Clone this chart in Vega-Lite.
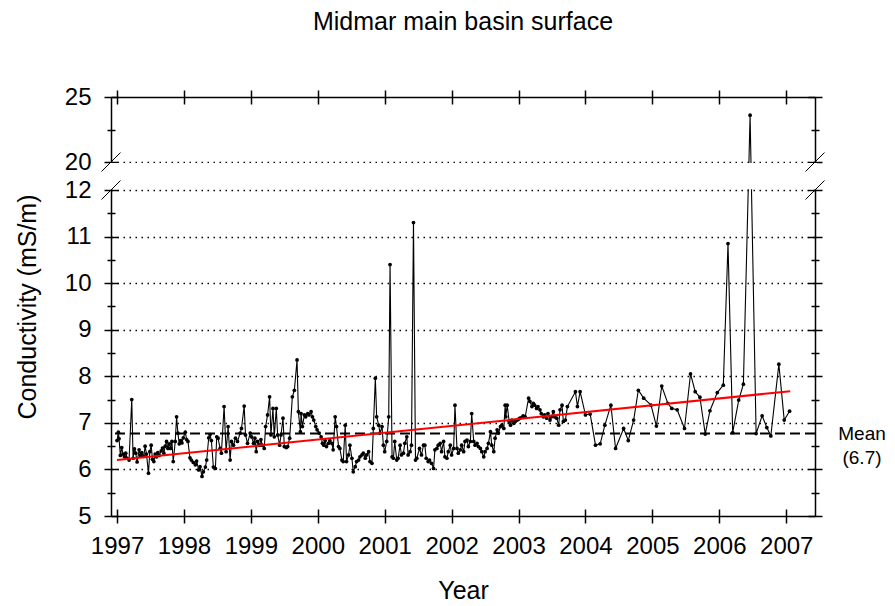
{
  "$schema": "https://vega.github.io/schema/vega-lite/v6.json",
  "width": 704,
  "height": 419,
  "autosize": {"type": "none"},
  "padding": {"left": 111, "top": 97, "right": 80, "bottom": 90},
  "background": "#ffffff",
  "title": {"text": "Midmar main basin surface", "font": "Liberation Sans", "fontSize": 25, "fontWeight": "normal", "color": "black", "offset": 50},
  "config": {
    "view": {"stroke": null},
    "axis": {"domainColor": "black", "tickColor": "black", "labelColor": "black", "titleColor": "black", "labelFont": "Liberation Sans", "titleFont": "Liberation Sans", "labelFontSize": 24, "titleFontSize": 25, "titleFontWeight": "normal", "domainWidth": 1.5, "tickWidth": 1.5, "grid": false, "labelFlush": false, "labelOverlap": false}
  },
  "datasets": {
    "series": [
      {"t":1997.00,"v":6.62},{"t":1997.02,"v":6.80},{"t":1997.03,"v":6.66},{"t":1997.05,"v":6.30},{"t":1997.07,"v":6.47},{"t":1997.09,"v":6.33},{"t":1997.11,"v":6.27},{"t":1997.13,"v":6.35},{"t":1997.15,"v":6.24},{"t":1997.18,"v":6.20},{"t":1997.22,"v":7.50},{"t":1997.24,"v":6.24},{"t":1997.26,"v":6.44},{"t":1997.28,"v":6.35},{"t":1997.30,"v":6.16},{"t":1997.33,"v":6.42},{"t":1997.35,"v":6.30},{"t":1997.37,"v":6.36},{"t":1997.40,"v":6.28},{"t":1997.42,"v":6.50},{"t":1997.44,"v":6.33},{"t":1997.47,"v":5.92},{"t":1997.49,"v":6.38},{"t":1997.51,"v":6.52},{"t":1997.53,"v":6.22},{"t":1997.55,"v":6.17},{"t":1997.57,"v":6.33},{"t":1997.59,"v":6.27},{"t":1997.61,"v":6.36},{"t":1997.63,"v":6.30},{"t":1997.66,"v":6.40},{"t":1997.68,"v":6.46},{"t":1997.70,"v":6.35},{"t":1997.72,"v":6.50},{"t":1997.74,"v":6.60},{"t":1997.76,"v":6.45},{"t":1997.78,"v":6.55},{"t":1997.80,"v":6.45},{"t":1997.82,"v":6.60},{"t":1997.84,"v":6.17},{"t":1997.87,"v":6.60},{"t":1997.89,"v":7.13},{"t":1997.91,"v":6.78},{"t":1997.93,"v":6.55},{"t":1997.95,"v":6.62},{"t":1997.97,"v":6.57},{"t":1997.99,"v":6.68},
      {"t":1998.02,"v":6.80},{"t":1998.04,"v":6.64},{"t":1998.06,"v":6.60},{"t":1998.09,"v":6.25},{"t":1998.11,"v":6.20},{"t":1998.14,"v":6.15},{"t":1998.17,"v":6.10},{"t":1998.19,"v":6.18},{"t":1998.22,"v":5.99},{"t":1998.24,"v":6.06},{"t":1998.27,"v":5.85},{"t":1998.29,"v":5.95},{"t":1998.32,"v":6.05},{"t":1998.34,"v":6.20},{"t":1998.37,"v":6.68},{"t":1998.39,"v":6.75},{"t":1998.41,"v":6.62},{"t":1998.44,"v":6.05},{"t":1998.47,"v":6.02},{"t":1998.49,"v":6.70},{"t":1998.51,"v":6.67},{"t":1998.54,"v":6.45},{"t":1998.56,"v":6.35},{"t":1998.60,"v":7.35},{"t":1998.63,"v":6.38},{"t":1998.66,"v":6.92},{"t":1998.69,"v":6.20},{"t":1998.71,"v":6.60},{"t":1998.74,"v":6.52},{"t":1998.77,"v":6.67},{"t":1998.80,"v":6.60},{"t":1998.84,"v":6.78},{"t":1998.86,"v":6.88},{"t":1998.90,"v":7.36},{"t":1998.92,"v":6.74},{"t":1998.95,"v":6.56},{"t":1998.99,"v":6.78},
      {"t":1999.01,"v":6.70},{"t":1999.04,"v":6.56},{"t":1999.06,"v":6.67},{"t":1999.08,"v":6.38},{"t":1999.10,"v":6.60},{"t":1999.13,"v":6.52},{"t":1999.15,"v":6.64},{"t":1999.17,"v":6.52},{"t":1999.20,"v":6.45},{"t":1999.22,"v":6.92},{"t":1999.25,"v":7.17},{"t":1999.28,"v":7.56},{"t":1999.30,"v":6.74},{"t":1999.33,"v":7.31},{"t":1999.35,"v":6.70},{"t":1999.38,"v":7.31},{"t":1999.40,"v":6.74},{"t":1999.43,"v":6.52},{"t":1999.45,"v":6.74},{"t":1999.48,"v":7.10},{"t":1999.50,"v":6.49},{"t":1999.53,"v":6.47},{"t":1999.55,"v":6.49},{"t":1999.58,"v":6.67},{"t":1999.62,"v":7.56},{"t":1999.65,"v":7.70},{"t":1999.69,"v":8.35},{"t":1999.71,"v":7.24},{"t":1999.74,"v":6.81},{"t":1999.75,"v":7.20},{"t":1999.77,"v":6.92},{"t":1999.80,"v":7.17},{"t":1999.82,"v":7.13},{"t":1999.85,"v":7.20},{"t":1999.87,"v":7.17},{"t":1999.90,"v":7.24},{"t":1999.92,"v":7.13},{"t":1999.94,"v":7.06},{"t":1999.97,"v":6.92},{"t":1999.99,"v":6.85},
      {"t":2000.02,"v":6.78},{"t":2000.05,"v":6.70},{"t":2000.07,"v":6.56},{"t":2000.09,"v":6.52},{"t":2000.11,"v":6.62},{"t":2000.13,"v":6.49},{"t":2000.16,"v":6.56},{"t":2000.18,"v":6.62},{"t":2000.21,"v":6.56},{"t":2000.23,"v":6.42},{"t":2000.26,"v":7.13},{"t":2000.28,"v":6.92},{"t":2000.31,"v":6.49},{"t":2000.33,"v":6.45},{"t":2000.36,"v":6.20},{"t":2000.38,"v":6.17},{"t":2000.41,"v":6.95},{"t":2000.43,"v":6.17},{"t":2000.46,"v":6.31},{"t":2000.48,"v":6.52},{"t":2000.51,"v":6.24},{"t":2000.53,"v":5.95},{"t":2000.56,"v":6.06},{"t":2000.58,"v":6.17},{"t":2000.61,"v":6.20},{"t":2000.63,"v":6.27},{"t":2000.66,"v":6.31},{"t":2000.68,"v":6.35},{"t":2000.71,"v":6.24},{"t":2000.73,"v":6.31},{"t":2000.76,"v":6.38},{"t":2000.78,"v":6.17},{"t":2000.81,"v":6.13},{"t":2000.83,"v":6.88},{"t":2000.86,"v":7.96},{"t":2000.88,"v":7.13},{"t":2000.91,"v":6.95},{"t":2000.93,"v":6.78},{"t":2000.96,"v":6.92},{"t":2000.98,"v":6.52},
      {"t":2001.00,"v":6.38},{"t":2001.03,"v":6.60},{"t":2001.06,"v":7.13},{"t":2001.08,"v":10.40},{"t":2001.11,"v":6.27},{"t":2001.13,"v":6.24},{"t":2001.15,"v":6.60},{"t":2001.18,"v":6.20},{"t":2001.20,"v":6.24},{"t":2001.23,"v":6.52},{"t":2001.25,"v":6.31},{"t":2001.28,"v":6.35},{"t":2001.30,"v":6.56},{"t":2001.33,"v":6.70},{"t":2001.35,"v":6.31},{"t":2001.38,"v":6.38},{"t":2001.40,"v":6.52},{"t":2001.43,"v":11.30},{"t":2001.46,"v":6.20},{"t":2001.48,"v":6.24},{"t":2001.52,"v":6.45},{"t":2001.55,"v":6.31},{"t":2001.58,"v":6.52},{"t":2001.60,"v":6.52},{"t":2001.62,"v":6.24},{"t":2001.65,"v":6.17},{"t":2001.67,"v":6.20},{"t":2001.70,"v":6.13},{"t":2001.73,"v":6.02},{"t":2001.75,"v":6.42},{"t":2001.78,"v":6.45},{"t":2001.80,"v":6.52},{"t":2001.83,"v":6.56},{"t":2001.85,"v":6.38},{"t":2001.88,"v":6.60},{"t":2001.90,"v":6.27},{"t":2001.93,"v":6.24},{"t":2001.95,"v":6.38},{"t":2001.98,"v":6.52},
      {"t":2002.00,"v":6.31},{"t":2002.03,"v":6.45},{"t":2002.05,"v":7.38},{"t":2002.08,"v":6.45},{"t":2002.10,"v":6.35},{"t":2002.13,"v":6.42},{"t":2002.15,"v":6.52},{"t":2002.18,"v":6.38},{"t":2002.20,"v":6.60},{"t":2002.23,"v":6.63},{"t":2002.25,"v":6.49},{"t":2002.28,"v":6.60},{"t":2002.30,"v":7.20},{"t":2002.33,"v":6.60},{"t":2002.35,"v":6.52},{"t":2002.38,"v":6.56},{"t":2002.40,"v":6.49},{"t":2002.43,"v":6.45},{"t":2002.45,"v":6.38},{"t":2002.48,"v":6.27},{"t":2002.50,"v":6.38},{"t":2002.53,"v":6.45},{"t":2002.55,"v":6.56},{"t":2002.58,"v":6.81},{"t":2002.60,"v":6.52},{"t":2002.63,"v":6.38},{"t":2002.65,"v":6.67},{"t":2002.68,"v":6.85},{"t":2002.70,"v":6.78},{"t":2002.73,"v":6.92},{"t":2002.75,"v":6.95},{"t":2002.78,"v":6.88},{"t":2002.80,"v":7.38},{"t":2002.81,"v":7.13},{"t":2002.83,"v":7.38},{"t":2002.86,"v":7.03},{"t":2002.88,"v":6.95},{"t":2002.90,"v":7.06},{"t":2002.93,"v":6.99},{"t":2002.95,"v":7.03},{"t":2002.98,"v":7.06},
      {"t":2003.00,"v":7.08},{"t":2003.02,"v":7.10},{"t":2003.05,"v":7.12},{"t":2003.07,"v":7.15},{"t":2003.10,"v":7.13},{"t":2003.15,"v":7.53},{"t":2003.17,"v":7.46},{"t":2003.20,"v":7.35},{"t":2003.22,"v":7.42},{"t":2003.24,"v":7.38},{"t":2003.27,"v":7.31},{"t":2003.29,"v":7.35},{"t":2003.32,"v":7.28},{"t":2003.34,"v":7.20},{"t":2003.37,"v":7.13},{"t":2003.39,"v":7.17},{"t":2003.42,"v":7.10},{"t":2003.44,"v":7.20},{"t":2003.47,"v":7.06},{"t":2003.49,"v":7.13},{"t":2003.52,"v":7.24},{"t":2003.54,"v":7.13},{"t":2003.57,"v":7.10},{"t":2003.60,"v":6.95},{"t":2003.62,"v":7.28},{"t":2003.65,"v":7.38},{"t":2003.67,"v":7.03},{"t":2003.70,"v":7.06},{"t":2003.73,"v":7.35},{"t":2003.85,"v":7.67},{"t":2003.88,"v":7.35},{"t":2003.92,"v":7.67},
      {"t":2004.00,"v":7.17},{"t":2004.07,"v":7.19},{"t":2004.15,"v":6.52},{"t":2004.22,"v":6.55},{"t":2004.29,"v":6.95},{"t":2004.38,"v":7.38},{"t":2004.45,"v":6.45},{"t":2004.57,"v":6.88},{"t":2004.64,"v":6.62},{"t":2004.72,"v":7.06},{"t":2004.79,"v":7.70},{"t":2004.87,"v":7.53},{"t":2004.98,"v":7.38},
      {"t":2005.06,"v":6.93},{"t":2005.14,"v":7.79},{"t":2005.23,"v":7.42},{"t":2005.29,"v":7.31},{"t":2005.37,"v":7.28},{"t":2005.48,"v":6.88},{"t":2005.57,"v":8.05},{"t":2005.64,"v":7.67},{"t":2005.71,"v":7.55},{"t":2005.79,"v":6.76},{"t":2005.86,"v":7.26},{"t":2005.97,"v":7.65},
      {"t":2006.06,"v":7.81},{"t":2006.13,"v":10.85},{"t":2006.20,"v":6.79},{"t":2006.29,"v":7.49},{"t":2006.36,"v":7.83},{"t":2006.46,"v":23.6},{"t":2006.55,"v":6.77},{"t":2006.64,"v":7.15},{"t":2006.71,"v":6.90},{"t":2006.77,"v":6.72},{"t":2006.89,"v":8.26},{"t":2006.97,"v":7.06},{"t":2007.05,"v":7.25}
    ],
    "trend": [{"t": 1997.0, "v": 6.2}, {"t": 2007.06, "v": 7.68}],
    "slashes": [
      {"t": 1996.768, "v": 17.29, "t2": 1997.052, "v2": 20.73},
      {"t": 1996.768, "v": 11.796, "t2": 1997.052, "v2": 14.71},
      {"t": 2007.288, "v": 17.29, "t2": 2007.572, "v2": 20.73},
      {"t": 2007.288, "v": 11.796, "t2": 2007.572, "v2": 14.71}
    ],
    "single": [{}]
  },
  "layer": [
    {
      "data": {"name": "series"},
      "mark": {"type": "line", "color": "black", "strokeWidth": 1.1, "point": {"filled": true, "size": 14, "color": "black"}},
      "encoding": {
        "x": {"field": "t", "type": "quantitative", "scale": {"domain": [1996.91, 2007.43], "nice": false, "zero": false},
              "axis": {"orient": "bottom", "values": [1997,1998,1999,2000,2001,2002,2003,2004,2005,2006,2007], "format": "d", "tickSize": 7, "labelPadding": 11, "title": "Year", "titlePadding": 20}},
        "y": {"field": "v", "type": "quantitative", "scale": {"domain": [5, 12, 20, 25], "range": [419, 93, 65, 0], "nice": false, "zero": false},
              "axis": {"orient": "left", "values": [5,5.5,6,6.5,7,7.5,8,8.5,9,9.5,10,10.5,11,11.5,12,20,22.5,25],
                       "labelExpr": "datum.value % 1 === 0 ? datum.label : ''",
                       "tickSize": {"condition": {"test": "datum.value % 1 !== 0", "value": 4}, "value": 7},
                       "labelPadding": 13, "title": "Conductivity (mS/m)", "titlePadding": 24,
                       "grid": true, "gridColor": "black", "gridWidth": 1.5, "gridDash": [1.5, 4.5],
                       "gridOpacity": {"condition": {"test": "datum.value % 1 === 0 && datum.value > 5 && datum.value < 25", "value": 1}, "value": 0}}}
      }
    },
    {
      "data": {"name": "single"},
      "mark": {"type": "rule", "color": "black", "strokeWidth": 2, "strokeDash": [10, 5]},
      "encoding": {"y": {"datum": 6.77, "type": "quantitative", "axis": null}}
    },
    {
      "data": {"name": "trend"},
      "mark": {"type": "line", "color": "#ff0000", "strokeWidth": 2},
      "encoding": {
        "x": {"field": "t", "type": "quantitative", "axis": {"orient": "top", "values": [1997,1998,1999,2000,2001,2002,2003,2004,2005,2006,2007], "tickSize": 7, "labels": false, "title": null}},
        "y": {"field": "v", "type": "quantitative", "axis": {"orient": "right", "values": [5,5.5,6,6.5,7,7.5,8,8.5,9,9.5,10,10.5,11,11.5,12,20,22.5,25], "tickSize": {"condition": {"test": "datum.value % 1 !== 0", "value": 4}, "value": 7}, "labels": false, "title": null}}
      }
    },
    {
      "data": {"name": "trend"},
      "mark": {"type": "line", "opacity": 0},
      "encoding": {
        "x": {"field": "t", "type": "quantitative", "axis": {"orient": "bottom", "values": [1997,1998,1999,2000,2001,2002,2003,2004,2005,2006,2007], "tickSize": -7, "labels": false, "domain": false, "title": null}},
        "y": {"field": "v", "type": "quantitative", "axis": {"orient": "left", "values": [5,5.5,6,6.5,7,7.5,8,8.5,9,9.5,10,10.5,11,11.5,12,20,22.5,25], "tickSize": {"condition": {"test": "datum.value % 1 !== 0", "value": -4}, "value": -7}, "labels": false, "domain": false, "title": null}}
      }
    },
    {
      "data": {"name": "trend"},
      "mark": {"type": "line", "opacity": 0},
      "encoding": {
        "x": {"field": "t", "type": "quantitative", "axis": {"orient": "top", "values": [1997,1998,1999,2000,2001,2002,2003,2004,2005,2006,2007], "tickSize": -7, "labels": false, "domain": false, "title": null}},
        "y": {"field": "v", "type": "quantitative", "axis": {"orient": "right", "values": [5,5.5,6,6.5,7,7.5,8,8.5,9,9.5,10,10.5,11,11.5,12,20,22.5,25], "tickSize": {"condition": {"test": "datum.value % 1 !== 0", "value": -4}, "value": -7}, "labels": false, "domain": false, "title": null}}
      }
    },
    {
      "data": {"name": "single"},
      "mark": {"type": "rect", "fill": "white"},
      "encoding": {
        "x": {"datum": 1996.88, "type": "quantitative", "axis": null},
        "x2": {"datum": 2007.46},
        "y": {"datum": 12.25, "type": "quantitative", "axis": null},
        "y2": {"datum": 19.75}
      }
    },
    {
      "data": {"name": "slashes"},
      "mark": {"type": "rule", "color": "black", "strokeWidth": 1},
      "encoding": {
        "x": {"field": "t", "type": "quantitative", "axis": null},
        "x2": {"field": "t2"},
        "y": {"field": "v", "type": "quantitative", "axis": null},
        "y2": {"field": "v2"}
      }
    },
    {
      "data": {"name": "single"},
      "mark": {"type": "text", "text": ["Mean", "(6.7)"], "font": "Liberation Sans", "fontSize": 19, "color": "black", "align": "center", "baseline": "middle", "lineHeight": 24, "dx": 47, "dy": 0},
      "encoding": {
        "x": {"datum": 2007.43, "type": "quantitative", "axis": null},
        "y": {"datum": 6.77, "type": "quantitative", "axis": null}
      }
    }
  ],
  "resolve": {"axis": {"x": "independent", "y": "independent"}}
}
